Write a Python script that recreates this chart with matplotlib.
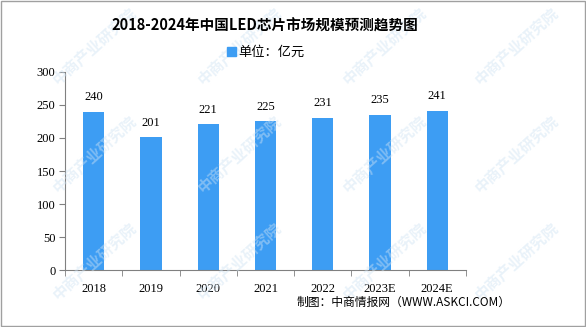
import matplotlib.pyplot as plt
import numpy as np
from matplotlib.patches import Rectangle

plt.rcParams['font.family'] = ['Noto Sans CJK SC', 'DejaVu Sans']

years = ['2018', '2019', '2020', '2021', '2022', '2023E', '2024E']
values = [240, 201, 221, 225, 231, 235, 241]

bar_color = '#3d9df3'
serif = ['Liberation Serif', 'DejaVu Serif']

fig = plt.figure(figsize=(5.86, 3.27), dpi=100)
ax = fig.add_axes([0.111, 0.174, 0.684, 0.606])

x = np.arange(len(years))
ax.bar(x, values, width=0.37, color=bar_color, zorder=2)
for xi, v in zip(x, values):
    ax.text(xi, v + 13, str(v), ha='center', va='bottom', fontsize=9, family=serif)

ax.set_xlim(-0.5, len(years) - 0.5)
ax.set_ylim(0, 300)
ax.set_yticks(range(0, 301, 50))
ax.set_xticks(x)
ax.set_xticklabels(years, family=serif, fontsize=9)
for lab in ax.get_yticklabels():
    lab.set_family(serif)
    lab.set_fontsize(9)
ax.set_xticks(np.arange(-0.5, len(years)), minor=True)
ax.tick_params(axis='x', which='major', length=0, pad=9)
ax.tick_params(axis='x', which='minor', length=4, color='#808080')
ax.tick_params(axis='y', length=4, color='#808080', pad=3)
for s in ['top', 'right']:
    ax.spines[s].set_visible(False)
ax.spines['left'].set_color('#808080')
ax.spines['bottom'].set_color('#808080')

# watermarks
for wx in [60, 205, 350, 482]:
    for wy in [88, 196, 303]:
        fig.text(wx / 586, 1 - wy / 327, '中商产业研究院', rotation=42, fontsize=11,
                 color='#cfe3f3', alpha=0.45, ha='left', va='bottom',
                 rotation_mode='anchor', zorder=0, fontweight='bold')

fig.text(265 / 586, 1 - 26 / 327, '2018-2024年中国LED芯片市场规模预测趋势图',
         ha='center', va='center', fontsize=10.5, fontweight='bold')
fig.patches.append(Rectangle((227 / 586, 1 - 56 / 327), 9 / 586, 9 / 327,
                             transform=fig.transFigure, color=bar_color))
fig.text(238 / 586, 1 - 52 / 327, '单位：亿元', ha='left', va='center', fontsize=9.5)
fig.text(511 / 586, 1 - 302 / 327, '制图：中商情报网（WWW.ASKCI.COM）',
         ha='right', va='center', fontsize=8.5)

fig.patches.append(Rectangle((0.001, 0.002), 0.997, 0.996, transform=fig.transFigure,
                             fill=False, edgecolor='#a0a0a0', linewidth=1))

fig.savefig('out.png', dpi=100)
